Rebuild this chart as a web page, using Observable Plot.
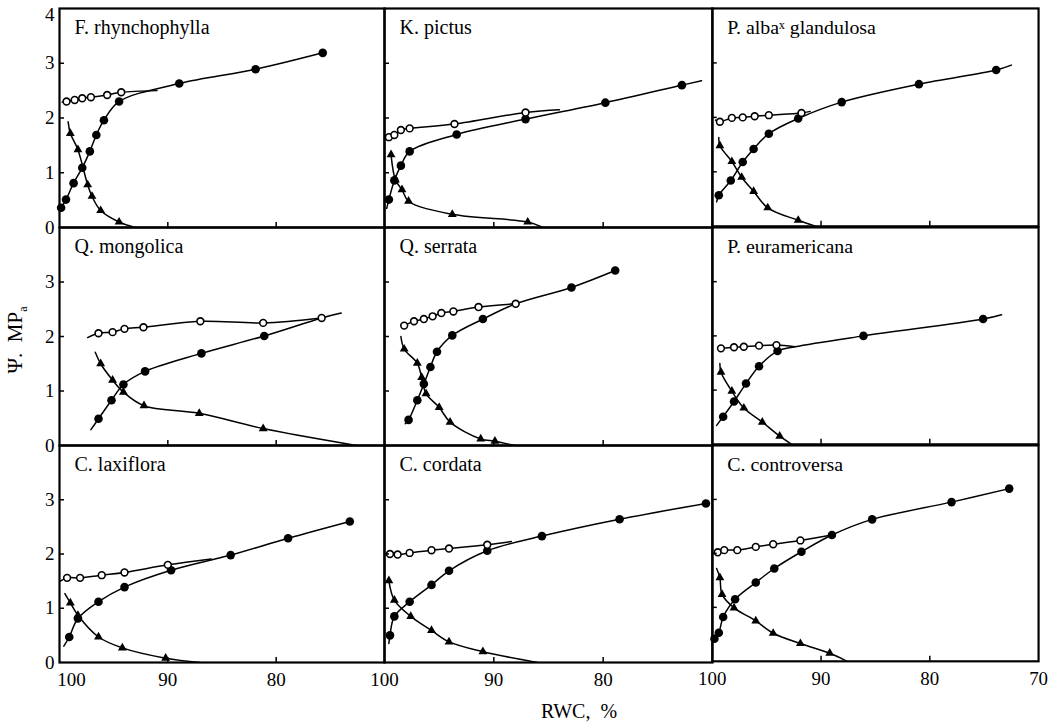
<!DOCTYPE html>
<html>
<head>
<meta charset="utf-8">
<script src="https://cdn.jsdelivr.net/npm/d3@7"></script>
<script src="https://cdn.jsdelivr.net/npm/@observablehq/plot@0.6"></script>
<style>
  html, body { margin: 0; padding: 0; background: #fff; }
  #chart { position: relative; width: 1053px; height: 725px; overflow: hidden;
           font-family: "Liberation Serif", "DejaVu Serif", serif; color: #000; }
  .panel { position: absolute; }
  .ytitle { position: absolute; left: 17px; top: 340px; transform: translate(-50%, -50%) rotate(-90deg);
            font-size: 21px; white-space: pre; }
  .ytitle sub { font-size: 12px; }
  .xtitle { position: absolute; left: 579px; top: 711px; transform: translate(-50%, -50%);
            font-size: 20px; white-space: pre; }
</style>
</head>
<body>
<div id="chart"></div>
<script>
// ---- data (RWC %, Psi MPa) ----
const species = ["F. rhynchophylla", "K. pictus", "P. albaˣ glandulosa",
                 "Q. mongolica", "Q. serrata", "P. euramericana",
                 "C. laxiflora", "C. cordata", "C. controversa"];

// open circles
const openPoints = [
  [[99.35,2.30],[98.6,2.33],[97.9,2.36],[97.1,2.38],[95.6,2.42],[94.3,2.47]],
  [[99.6,1.65],[99.1,1.69],[98.5,1.78],[97.7,1.81],[93.6,1.89],[87.1,2.10]],
  [[99.3,1.92],[98.2,1.99],[97.2,2.00],[96.1,2.02],[94.8,2.04],[91.8,2.08]],
  [[96.4,2.06],[95.1,2.08],[94.0,2.14],[92.25,2.17],[87.0,2.28],[81.2,2.25],[75.8,2.34]],
  [[98.2,2.20],[97.3,2.28],[96.4,2.32],[95.6,2.37],[94.8,2.43],[93.7,2.46],[91.4,2.54],[88.0,2.60]],
  [[99.2,1.77],[98.0,1.79],[97.1,1.80],[95.7,1.82],[94.1,1.83]],
  [[99.3,1.56],[98.1,1.56],[96.1,1.61],[94.0,1.66],[90.0,1.80]],
  [[99.5,2.00],[98.8,1.99],[97.7,2.02],[95.7,2.07],[94.1,2.10],[90.6,2.17]],
  [[99.5,2.02],[98.9,2.06],[97.7,2.06],[96.0,2.12],[94.4,2.17],[91.9,2.24]]
];
// extra curve vertices of the open-circle line (start / junction)
const openExtra = [
  [[99.75,2.29],[91.0,2.50]],
  [[84.0,2.15]],
  [[99.7,1.95],[91.0,2.11]],
  [[97.4,1.98]],
  [],
  [[92.4,1.80]],
  [[100,1.49],[86.0,1.91]],
  [[88.4,2.23]],
  [[89.0,2.34]]
];

// filled circles
const filledPoints = [
  [[99.85,0.36],[99.4,0.51],[98.7,0.81],[97.9,1.09],[97.2,1.39],[96.6,1.69],[95.9,1.96],[94.5,2.30],[88.95,2.63],[81.9,2.89],[75.7,3.19]],
  [[99.6,0.51],[99.1,0.86],[98.5,1.13],[97.7,1.39],[93.4,1.70],[87.1,1.98],[79.8,2.28],[72.8,2.60]],
  [[99.4,0.57],[98.3,0.84],[97.2,1.18],[96.2,1.42],[94.8,1.70],[92.1,1.98],[88.1,2.28],[81.0,2.61],[73.9,2.87]],
  [[96.4,0.49],[95.2,0.83],[94.1,1.12],[92.1,1.36],[86.9,1.69],[81.1,2.01]],
  [[97.8,0.47],[97.0,0.83],[96.4,1.13],[95.8,1.44],[95.2,1.72],[93.8,2.02],[91.0,2.32],[82.9,2.90],[78.9,3.21]],
  [[99.0,0.51],[98.0,0.79],[96.9,1.12],[95.7,1.44],[94.0,1.72],[86.1,2.00],[75.1,2.31]],
  [[99.1,0.47],[98.3,0.81],[96.4,1.12],[94.0,1.39],[89.7,1.70],[84.2,1.98],[78.9,2.29],[73.2,2.60]],
  [[99.5,0.50],[99.1,0.85],[97.7,1.12],[95.7,1.43],[94.1,1.69],[90.6,2.06],[85.6,2.33],[78.5,2.64],[70.6,2.93]],
  [[99.8,0.42],[99.4,0.53],[99.0,0.82],[97.9,1.15],[96.0,1.46],[94.3,1.72],[91.8,2.03],[89.0,2.34],[85.3,2.63],[78.0,2.95],[72.7,3.20]]
];
const filledExtra = [
  [],
  [[99.8,0.35],[71.0,2.68]],
  [[99.6,0.45],[72.5,2.96]],
  [[97.1,0.29],[75.8,2.34],[74.0,2.43]],
  [[98.1,0.40],[88.0,2.60]],
  [[99.6,0.35],[92.4,1.80],[73.4,2.39]],
  [[99.6,0.30]],
  [[99.6,0.35]],
  []
];

// filled triangles
const trianglePoints = [
  [[99.0,1.72],[98.3,1.42],[97.4,0.78],[97.0,0.57],[96.2,0.31],[94.5,0.10]],
  [[99.4,1.33],[99.0,0.87],[98.4,0.69],[97.8,0.48],[93.8,0.24],[86.9,0.10]],
  [[99.3,1.48],[98.2,1.19],[97.3,0.90],[96.2,0.64],[94.9,0.34],[92.1,0.11]],
  [[96.2,1.50],[95.1,1.20],[94.1,0.98],[92.2,0.73],[87.1,0.59],[81.2,0.31]],
  [[98.2,1.77],[97.0,1.51],[96.6,1.25],[96.2,0.95],[95.0,0.70],[94.0,0.43],[91.2,0.12],[89.9,0.08]],
  [[99.2,1.33],[98.2,0.98],[97.1,0.67],[95.4,0.41],[93.8,0.15]],
  [[99.0,1.10],[98.3,0.87],[96.4,0.47],[94.2,0.27],[90.2,0.08]],
  [[99.6,1.51],[99.1,1.15],[97.6,0.85],[95.7,0.59],[94.1,0.38],[91.0,0.20]],
  [[99.3,1.55],[99.1,1.24],[98.0,0.99],[96.0,0.75],[94.4,0.52],[91.9,0.33],[89.2,0.15]]
];
const triangleExtra = [
  [[99.2,1.93],[93.0,0]],
  [[85.5,0]],
  [[99.4,1.63],[90.5,0]],
  [[96.7,1.71],[72.6,0]],
  [[98.5,2.00],[88.1,0]],
  [[99.3,1.49],[92.7,0]],
  [[99.5,1.27],[87.0,0]],
  [[86.0,0]],
  [[99.6,1.72],[87.6,0]]
];

// tick values
const xInnerTicks = [90, 80];
const yInnerTicks = [1, 2, 3];
const xTickLabels = [[100, 90, 80], [100, 90, 80], [100, 90, 80, 70]];
const yTickLabels = [[0, 1, 2, 3], [0, 1, 2, 3], [0, 1, 2, 3]];
const yTopLabel = [4];

// ---- layout ----
const colEdges = [59, 384, 712, 1040];
const rowEdges = [8, 227, 445, 662];
const ML = 45, MR = 15, MT = 10, MB = 35;
const chart = document.getElementById("chart");
const curve = (pts, extra) => [...pts, ...extra].sort((a, b) => b[0] - a[0]);
const X = d => d[0], Y = d => d[1];
const fmt = d => String(d);

species.forEach((name, i) => {
  const r = Math.floor(i / 3), c = i % 3;
  const w = colEdges[c + 1] - colEdges[c];
  const h = rowEdges[r + 1] - rowEdges[r];
  const marks = [
    Plot.line(curve(trianglePoints[i], triangleExtra[i]), {x: X, y: Y, curve: "catmull-rom", stroke: "black", strokeWidth: 1.5, clip: true}),
    Plot.line(curve(filledPoints[i], filledExtra[i]), {x: X, y: Y, curve: "catmull-rom", stroke: "black", strokeWidth: 1.5, clip: true}),
    Plot.line(curve(openPoints[i], openExtra[i]), {x: X, y: Y, curve: "catmull-rom", stroke: "black", strokeWidth: 1.5, clip: true}),
    Plot.dot(trianglePoints[i], {x: X, y: Y, symbol: "triangle", r: 3.3, fill: "black", stroke: "none"}),
    Plot.dot(filledPoints[i], {x: X, y: Y, symbol: "circle", r: 4.3, fill: "black", stroke: "none"}),
    Plot.dot(openPoints[i], {x: X, y: Y, symbol: "circle", r: 3.4, fill: "white", stroke: "black", strokeWidth: 1.6}),
    Plot.frame({stroke: "black", strokeWidth: 2.2}),
    Plot.ruleX(xInnerTicks, {y1: 0, y2: 0, insetBottom: 5, stroke: "black", strokeWidth: 1.5}),
    Plot.ruleY(yInnerTicks, {x1: 100, x2: 100, insetRight: -5, stroke: "black", strokeWidth: 1.5}),
    Plot.text([name], {text: d => d, frameAnchor: "top-left", dx: 15, dy: 11, lineAnchor: "top",
                       textAnchor: "start", fontSize: 20, fill: "black", fontWeight: "normal"})
  ];
  if (c === 0) {
    marks.push(Plot.axisY(yTickLabels[r], {anchor: "left", tickSize: 0, tickPadding: 5, label: null, fontSize: 19, tickFormat: fmt}));
    if (r === 0) {
      marks.push(Plot.axisY(yTopLabel, {anchor: "left", tickSize: 0, tickPadding: 5, label: null, fontSize: 19, tickFormat: fmt, dy: 6}));
    }
  }
  if (r === 2) {
    const labs = xTickLabels[c];
    if (c === 0) {
      marks.push(Plot.axisX(labs.filter(v => v !== 100), {anchor: "bottom", tickSize: 0, tickPadding: 10, label: null, fontSize: 19, tickFormat: fmt}));
      marks.push(Plot.axisX([100], {anchor: "bottom", tickSize: 0, tickPadding: 10, label: null, fontSize: 19, tickFormat: fmt, dx: 12}));
    } else {
      marks.push(Plot.axisX(labs, {anchor: "bottom", tickSize: 0, tickPadding: 10, label: null, fontSize: 19, tickFormat: fmt}));
    }
  }
  const svg = Plot.plot({
    width: w + ML + MR,
    height: h + MT + MB,
    marginLeft: ML, marginRight: MR, marginTop: MT, marginBottom: MB,
    x: {domain: [100, 70], axis: null},
    y: {domain: [0, 4], axis: null},
    style: "background: transparent; overflow: visible; font-family: 'Liberation Serif', 'DejaVu Serif', serif; font-size: 19px; color: black;",
    marks
  });
  const div = document.createElement("div");
  div.className = "panel";
  div.style.left = (colEdges[c] - ML) + "px";
  div.style.top = (rowEdges[r] - MT) + "px";
  div.appendChild(svg);
  chart.appendChild(div);
});

const yt = document.createElement("div");
yt.className = "ytitle";
yt.innerHTML = "Ψ.  MP<sub>a</sub>";
chart.appendChild(yt);
const xt = document.createElement("div");
xt.className = "xtitle";
xt.textContent = "RWC,  %";
chart.appendChild(xt);
</script>
</body>
</html>
